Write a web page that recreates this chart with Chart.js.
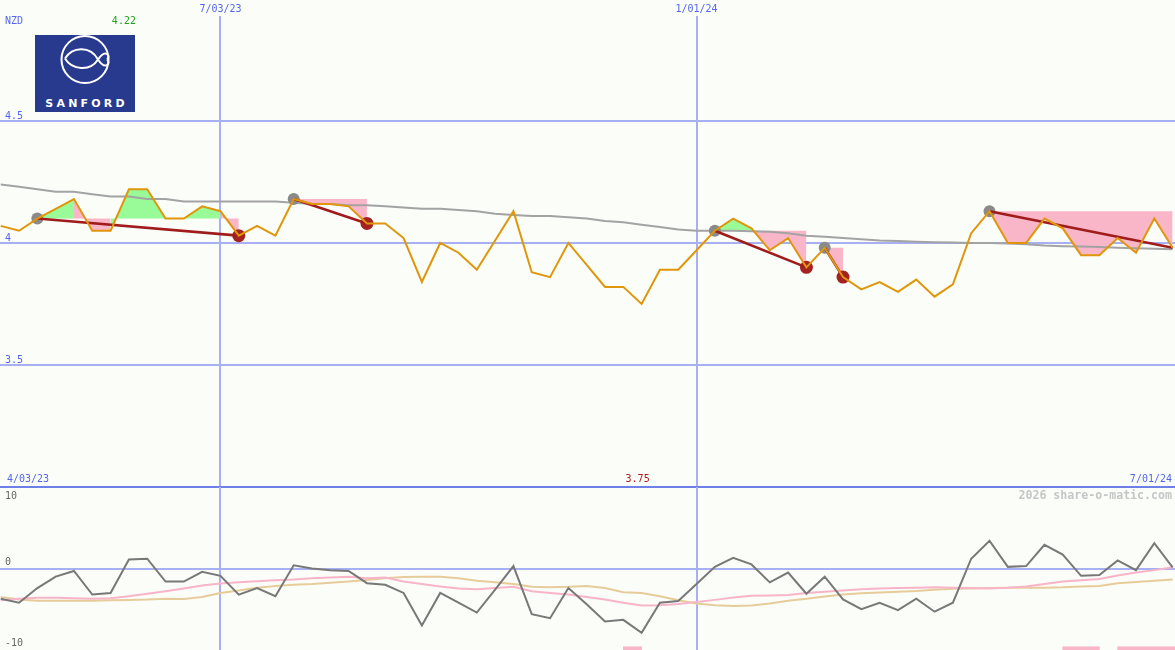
<!DOCTYPE html>
<html>
<head>
<meta charset="utf-8">
<script src="https://cdn.jsdelivr.net/npm/chart.js@4.4.1/dist/chart.umd.min.js"></script>
<style>
html,body{margin:0;padding:0;background:#fbfdf8;}
#wrap{position:relative;width:1175px;height:650px;overflow:hidden;background:#fbfdf8;}
#top{position:absolute;left:0;top:0;}
#bot{position:absolute;left:0;top:487px;}
#logo{position:absolute;left:35px;top:35px;}
</style>
</head>
<body>
<div id="wrap">
  <canvas id="top" width="1175" height="489"></canvas>
  <canvas id="bot" width="1175" height="163"></canvas>
  <svg id="logo" width="100" height="77" viewBox="0 0 100 77">
    <rect x="0" y="0" width="100" height="77" fill="#283a8e"/>
    <circle cx="50" cy="24.5" r="23.5" fill="none" stroke="#ffffff" stroke-width="2"/>
    <path d="M30,23.5 C37,12 55,10 63,24.5 C66,29 69,32 72,30 C74,28.5 74,26 72,24.5" fill="none" stroke="#ffffff" stroke-width="2"/>
    <path d="M30,23.5 C37,35 55,37 63,24.5 C66,20 69,17 72,19 C74,20.5 74,23 72,24.5" fill="none" stroke="#ffffff" stroke-width="2"/>
    <text x="51.6" y="72.3" text-anchor="middle" fill="#ffffff" font-family="DejaVu Sans, sans-serif" font-weight="bold" font-size="11" letter-spacing="3.2">SANFORD</text>
  </svg>
</div>
<script>
// ---- data (weekly points, index 0 .. 64) ----
const price = [4.07, 4.05, 4.10, 4.14, 4.18, 4.05, 4.05, 4.22, 4.22, 4.10,
               4.10, 4.15, 4.13, 4.03, 4.07, 4.03, 4.18, 4.16, 4.16, 4.15,
               4.08, 4.08, 4.02, 3.84, 4.00, 3.96, 3.89, 4.01, 4.13, 3.88,
               3.86, 4.00, 3.91, 3.82, 3.82, 3.75, 3.89, 3.89, 3.97, 4.05,
               4.10, 4.06, 3.97, 4.02, 3.90, 3.98, 3.86, 3.81, 3.84, 3.80,
               3.85, 3.78, 3.83, 4.04, 4.13, 4.00, 4.00, 4.10, 4.06, 3.95,
               3.95, 4.02, 3.96, 4.10, 3.98];
const movingAvg = [4.24, 4.23, 4.22, 4.21, 4.21, 4.20, 4.19, 4.19, 4.18, 4.18,
                   4.17, 4.17, 4.17, 4.17, 4.17, 4.17, 4.165, 4.16, 4.16, 4.155,
                   4.155, 4.15, 4.145, 4.14, 4.14, 4.135, 4.13, 4.12, 4.115, 4.11,
                   4.11, 4.105, 4.10, 4.09, 4.085, 4.075, 4.065, 4.055, 4.05, 4.05,
                   4.05, 4.048, 4.046, 4.04, 4.03, 4.025, 4.02, 4.015, 4.01, 4.008,
                   4.005, 4.003, 4.002, 4.00, 4.00, 3.998, 3.995, 3.99, 3.987, 3.985,
                   3.983, 3.98, 3.978, 3.976, 3.974];
const oscillator = [-3.7, -4.2, -2.4, -1.0, -0.3, -3.2, -3.0, 1.1, 1.2, -1.6,
                    -1.6, -0.4, -0.9, -3.2, -2.4, -3.4, 0.4, 0.0, -0.2, -0.3,
                    -1.8, -2.0, -3.0, -7.0, -3.0, -4.2, -5.4, -2.6, 0.3, -5.6,
                    -6.1, -2.4, -4.4, -6.5, -6.3, -7.9, -4.2, -4.0, -1.9, 0.2,
                    1.3, 0.5, -1.7, -0.5, -3.1, -1.0, -3.8, -5.0, -4.2, -5.1,
                    -3.7, -5.3, -4.2, 1.2, 3.4, 0.2, 0.3, 2.9, 1.7, -0.9,
                    -0.8, 1.0, -0.2, 3.1, 0.15];
const oscSignal = [-3.9, -3.7, -3.6, -3.6, -3.65, -3.7, -3.65, -3.4, -3.1, -2.8,
                   -2.45, -2.1, -1.85, -1.7, -1.55, -1.45, -1.35, -1.2, -1.1, -1.0,
                   -1.2, -1.1, -1.6, -1.9, -2.2, -2.45, -2.55, -2.4, -2.25, -2.8,
                   -3.0, -3.2, -3.5, -3.8, -4.2, -4.55, -4.5, -4.35, -4.1, -3.85,
                   -3.55, -3.35, -3.3, -3.25, -3.0, -2.85, -2.7, -2.55, -2.45, -2.4,
                   -2.35, -2.3, -2.35, -2.4, -2.45, -2.35, -2.2, -1.9, -1.6, -1.45,
                   -1.3, -0.85, -0.5, -0.2, 0.15];
const oscSlow = [-3.5, -3.8, -3.95, -3.95, -3.95, -3.95, -3.9, -3.85, -3.8, -3.7,
                 -3.75, -3.5, -3.0, -2.7, -2.35, -2.15, -2.0, -1.9, -1.75, -1.6,
                 -1.4, -1.2, -1.05, -1.0, -1.0, -1.2, -1.5, -1.7, -1.9, -2.25,
                 -2.3, -2.25, -2.15, -2.4, -2.9, -3.0, -3.4, -3.9, -4.3, -4.5,
                 -4.6, -4.55, -4.3, -3.95, -3.7, -3.45, -3.2, -3.05, -2.95, -2.85,
                 -2.75, -2.6, -2.5, -2.45, -2.4, -2.35, -2.35, -2.35, -2.3, -2.2,
                 -2.15, -1.8, -1.65, -1.5, -1.35];
const patternStart = [2, 16, 39, 45, 54];
const patternEnd = [13, 20, 44, 46, 64];
const patternEndMark = [true, true, true, true, false];
const signalWeeks = [34, 58, 59, 61, 62, 63, 64];
const gridWeeks = [12, 38];
const gridDateLabels = ['7/03/23', '1/01/24'];
const rangeLabels = ['4/03/23', '7/01/24'];
const priceTicks = [3.0, 3.5, 4.0, 4.5];
const oscTicks = [10, 0, -10];
const currency = 'NZD';
const watermark = '2026 share-o-matic.com';

// ---- styles ----
const MONO = '"DejaVu Sans Mono", monospace';
const BLUE_TXT = '#5566ee';
const GRID = '#a6b0f2';
const GRID_DARK = '#6f7fe8';
const GREEN = '#98fb98';
const PINK = '#f9b6c9';
const RED = '#a01c1c';
const X_MIN = -0.04, X_MAX = 64.13;

const pt = i => ({x: i, y: price[i]});

// fills between price and the level of each pattern's start point,
// merged into runs of equal colour (colour decided by each segment's end point)
const fillSets = [];
patternStart.forEach((s, k) => {
  const e = patternEnd[k];
  const level = price[s];
  const colOf = i => (price[i + 1] >= level ? GREEN : PINK);
  let runStart = s;
  for (let i = s; i < e; i++) {
    const col = colOf(i);
    const next = (i + 1 < e) ? colOf(i + 1) : null;
    if (next !== col) {
      const pts = [];
      for (let j = runStart; j <= i + 1; j++) pts.push(pt(j));
      fillSets.push({
        data: pts,
        borderWidth: 0, borderColor: 'rgba(0,0,0,0)', pointRadius: 0,
        fill: {value: level},
        backgroundColor: col,
        order: 10
      });
      runStart = i + 1;
    }
  }
});
const trendSets = patternStart.map((s, k) => ({
  data: [pt(s), pt(patternEnd[k])],
  borderColor: RED, borderWidth: 2.6, pointRadius: 0, fill: false, order: 1
}));

const topTextPlugin = {
  id: 'topText',
  afterDraw(chart) {
    const ctx = chart.ctx, xs = chart.scales.x;
    const area = chart.chartArea;
    ctx.save();
    ctx.font = '10px ' + MONO;
    ctx.textBaseline = 'middle';
    ctx.fillStyle = BLUE_TXT;
    ctx.textAlign = 'left';
    ctx.fillText(currency, 5, 21);
    ctx.fillText(rangeLabels[0], 7, area.bottom - 8);
    ctx.textAlign = 'right';
    ctx.fillText(rangeLabels[1], 1172, area.bottom - 8);
    const maxV = Math.max(...price), minV = Math.min(...price);
    const iMax = price.indexOf(maxV), iMin = price.indexOf(minV);
    ctx.textAlign = 'center';
    ctx.fillStyle = '#22a022';
    ctx.fillText(maxV.toFixed(2), xs.getPixelForValue(iMax) - 5, 21);
    ctx.fillStyle = '#b01c1c';
    ctx.fillText(minV.toFixed(2), xs.getPixelForValue(iMin) - 4, area.bottom - 8);
    ctx.restore();
  }
};

new Chart(document.getElementById('top'), {
  type: 'line',
  data: {
    datasets: [
      {data: price.map((v, i) => ({x: i, y: v})), borderColor: '#e0960a', borderWidth: 2, pointRadius: 0, fill: false, order: 0},
      ...trendSets,
      {data: patternStart.map(pt), showLine: false, pointRadius: 6, pointBackgroundColor: '#8a8a8a', pointBorderWidth: 0, order: 2},
      {data: patternEnd.filter((e, k) => patternEndMark[k]).map(pt), showLine: false, pointRadius: 6.5, pointBackgroundColor: '#a52222', pointBorderWidth: 0, order: 2},
      {data: movingAvg.map((v, i) => ({x: i, y: v})), borderColor: '#a3a3a3', borderWidth: 2, pointRadius: 0, fill: false, order: 3},
      ...fillSets
    ]
  },
  options: {
    responsive: false, animation: false, devicePixelRatio: 1,
    layout: {autoPadding: false, padding: {left: 0, right: 0, top: 0, bottom: 2}},
    plugins: {legend: {display: false}, tooltip: {enabled: false}},
    elements: {line: {tension: 0}},
    scales: {
      x: {
        type: 'linear', position: 'top', min: X_MIN, max: X_MAX,
        afterBuildTicks: s => { s.ticks = gridWeeks.map(v => ({value: v})); },
        afterFit: s => { s.height = 16; s.paddingLeft = 0; s.paddingRight = 0; s.paddingTop = 0; s.paddingBottom = 0; },
        grid: {color: GRID, lineWidth: 2, drawTicks: false},
        border: {display: false},
        ticks: {
          callback: (v, i) => gridDateLabels[i],
          autoSkip: false, maxRotation: 0, padding: 1,
          font: {family: MONO, size: 10}, color: BLUE_TXT
        }
      },
      y: {
        type: 'linear', position: 'left', min: 3.0, max: 4.93,
        afterBuildTicks: s => { s.ticks = priceTicks.map(v => ({value: v})); },
        afterFit: s => { s.width = 0; s.paddingLeft = 0; s.paddingRight = 0; s.paddingTop = 0; s.paddingBottom = 0; },
        grid: {
          color: c => (c.tick && c.tick.value === priceTicks[0]) ? GRID_DARK : GRID,
          lineWidth: 2, drawTicks: false
        },
        border: {display: false},
        ticks: {
          mirror: true, padding: 5, labelOffset: -5,
          callback: v => v === priceTicks[0] ? '' : String(v),
          font: {family: MONO, size: 10}, color: BLUE_TXT
        }
      }
    }
  },
  plugins: [topTextPlugin]
});

const botTextPlugin = {
  id: 'botText',
  afterDraw(chart) {
    const ctx = chart.ctx, ys = chart.scales.y;
    ctx.save();
    ctx.textBaseline = 'middle';
    ctx.textAlign = 'right';
    ctx.font = 'bold 11.6px ' + MONO;
    ctx.fillStyle = '#c6c6c6';
    ctx.fillText(watermark, 1172, 9);
    ctx.font = '10px ' + MONO;
    ctx.fillStyle = '#666666';
    ctx.textAlign = 'left';
    ctx.fillText(String(oscTicks[0]), 5, ys.getPixelForValue(oscTicks[0]) + 9);
    ctx.fillText(String(oscTicks[1]), 5, ys.getPixelForValue(oscTicks[1]) - 6);
    ctx.fillText(String(oscTicks[2]), 5, ys.getPixelForValue(oscTicks[2]) - 7);
    ctx.restore();
  }
};

new Chart(document.getElementById('bot'), {
  type: 'line',
  data: {
    datasets: [
      {data: oscillator.map((v, i) => ({x: i, y: v})), borderColor: '#787878', borderWidth: 2, pointRadius: 0, fill: false, order: 0},
      {data: oscSignal.map((v, i) => ({x: i, y: v})), borderColor: '#f8b4c8', borderWidth: 2, pointRadius: 0, fill: false, order: 1},
      {data: oscSlow.map((v, i) => ({x: i, y: v})), borderColor: '#e6cc9a', borderWidth: 2, pointRadius: 0, fill: false, order: 2},
      {type: 'bar', data: signalWeeks.map(w => ({x: w + 0.5, y: [-10, -9.6]})), backgroundColor: PINK, borderWidth: 0, borderSkipped: false, barPercentage: 1, categoryPercentage: 1, order: 3}
    ]
  },
  options: {
    responsive: false, animation: false, devicePixelRatio: 1,
    layout: {autoPadding: false, padding: 0},
    plugins: {legend: {display: false}, tooltip: {enabled: false}},
    elements: {line: {tension: 0}},
    scales: {
      x: {
        type: 'linear', position: 'bottom', min: X_MIN, max: X_MAX, offset: false,
        afterBuildTicks: s => { s.ticks = gridWeeks.map(v => ({value: v})); },
        afterFit: s => { s.height = 0; s.paddingLeft = 0; s.paddingRight = 0; },
        grid: {color: GRID, lineWidth: 2, drawTicks: false, offset: false},
        border: {display: false},
        ticks: {display: false}
      },
      y: {
        type: 'linear', position: 'left', min: -10, max: 10,
        afterBuildTicks: s => { s.ticks = [{value: 0}]; },
        afterFit: s => { s.width = 0; s.paddingTop = 0; s.paddingBottom = 0; },
        grid: {color: GRID, lineWidth: 2, drawTicks: false},
        border: {display: false},
        ticks: {display: false}
      }
    }
  },
  plugins: [botTextPlugin]
});
</script>
</body>
</html>
